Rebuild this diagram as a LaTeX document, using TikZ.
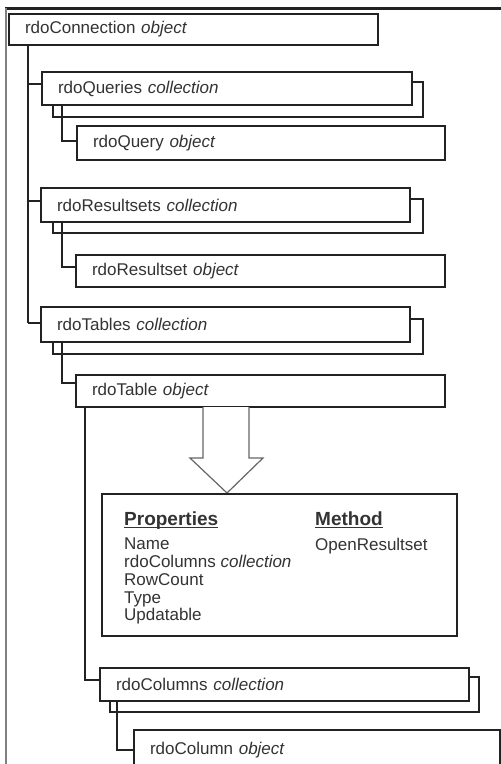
\documentclass[tikz,border=0pt]{standalone}
\usepackage{fontspec}
\setmainfont{Liberation Sans}
\definecolor{ln}{HTML}{222222}
\definecolor{txt}{HTML}{333333}
\tikzset{
  lbl/.style={font=\fontsize{17}{20}\selectfont, text=txt},
  box/.style={draw=ln, line width=1.8pt, fill=white, anchor=north west,
    inner xsep=16pt, inner ysep=0pt, outer sep=0pt, align=left, lbl},
  shadowbox/.style={draw=ln, line width=1.8pt, fill=white, anchor=north west,
    inner sep=0pt, outer sep=0pt},
  link/.style={draw=ln, line width=1.8pt},
  head/.style={font=\bfseries\fontsize{19}{22}\selectfont, text=txt, inner sep=0pt, anchor=base west},
  items/.style={font=\fontsize{17}{17.75}\selectfont, text=txt, inner sep=0pt, anchor=north west, align=left},
}
\begin{document}
\begin{tikzpicture}[x=1pt,y=-1pt]
\useasboundingbox (0,0) rectangle (501,764);
\clip (0,0) rectangle (501,764);
\fill[white] (0,0) rectangle (501,764);
% frame
\draw[line width=3.5pt, draw=ln] (5,8.5) -- (501,8.5);
\draw[line width=1.5pt, draw=gray] (6,8) -- (6,764);
% top box
\node[box, minimum width=369pt, minimum height=31pt, text width=337pt] (conn) at (9,14) {rdoConnection \textit{object}};
% queries
\node[shadowbox, minimum width=370pt, minimum height=35pt] (qsh) at (53,82) {};
\node[box, minimum width=370pt, minimum height=33pt, text width=338pt] (queries) at (42,72) {rdoQueries \textit{collection}};
\node[box, minimum width=368pt, minimum height=34pt, text width=336pt] (query) at (77,126) {rdoQuery \textit{object}};
% resultsets
\node[shadowbox, minimum width=370pt, minimum height=34pt] (rsh) at (53,199) {};
\node[box, minimum width=369pt, minimum height=34pt, text width=337pt] (rsets) at (41,188) {rdoResultsets \textit{collection}};
\node[box, minimum width=369pt, minimum height=32pt, text width=337pt] (rset) at (76,255) {rdoResultset \textit{object}};
% tables
\node[shadowbox, minimum width=370pt, minimum height=35pt] (tsh) at (53,319) {};
\node[box, minimum width=369pt, minimum height=35pt, text width=337pt] (tables) at (41,307) {rdoTables \textit{collection}};
\node[box, minimum width=369pt, minimum height=32pt, text width=337pt] (table) at (76,375) {rdoTable \textit{object}};
% arrow
\draw[line width=1.2pt, draw=gray!80!black, fill=white] (203,407) -- (203,458) -- (190,458) -- (227,493) -- (263,458) -- (249,458) -- (249,407);
% properties box
\node[shadowbox, minimum width=355pt, minimum height=142pt] (props) at (102,494) {};
\node[head] (ph) at (124,525) {Properties};
\draw[line width=1.8pt, draw=txt] ([yshift=-2.5pt]ph.base west) -- ([yshift=-2.5pt]ph.base east);
\node[head] (mh) at (315,525) {Method};
\draw[line width=1.8pt, draw=txt] ([yshift=-2.5pt]mh.base west) -- ([yshift=-2.5pt]mh.base east);
\node[items] (pl) at (124,538) {Name\\rdoColumns \textit{collection}\\RowCount\\Type\\Updatable};
\node[items] (ml) at (315,538) {OpenResultset};
% columns
\node[shadowbox, minimum width=369pt, minimum height=35pt] (csh) at (110,677) {};
\node[box, minimum width=369pt, minimum height=33pt, text width=337pt] (columns) at (100,668) {rdoColumns \textit{collection}};
\node[box, minimum width=366pt, minimum height=40pt, text width=334pt] (column) at (134,730) {rdoColumn \textit{object}};
% connectors
\coordinate (t0) at (28,84);
\coordinate (t1) at (28,201);
\coordinate (t2) at (28,323);
\draw[link] (conn.south -| t0) -- (t2);
\draw[link] (t0) -- (t0 -| queries.west);
\draw[link] (t1) -- (t1 -| rsets.west);
\draw[link] (t2) -- (t2 -| tables.west);
\coordinate (c0) at (62,141);
\coordinate (c1) at (62,267);
\coordinate (c2) at (62,383);
\coordinate (c3) at (85,680);
\coordinate (c4) at (117,750);
\draw[link] (queries.south -| c0) |- (query.west |- c0);
\draw[link] (rsets.south -| c1) |- (rset.west |- c1);
\draw[link] (tables.south -| c2) |- (table.west |- c2);
\draw[link] (table.south -| c3) |- (columns.west |- c3);
\draw[link] (columns.south -| c4) |- (column.west |- c4);
\end{tikzpicture}
\end{document}
